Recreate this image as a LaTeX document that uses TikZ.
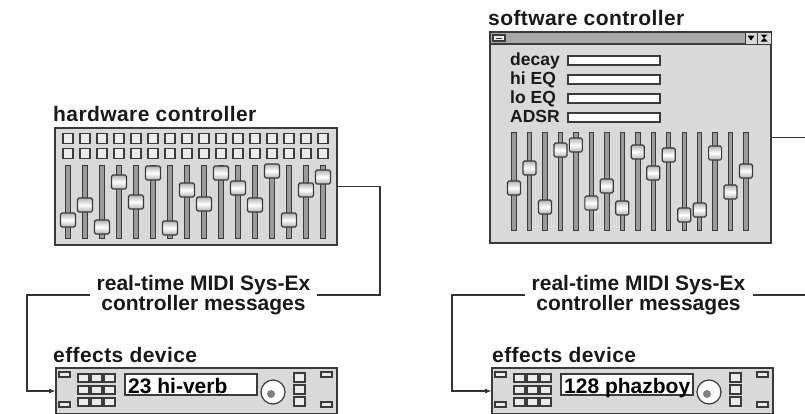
\documentclass[tikz,border=0pt]{standalone}
\usepackage{fontspec}
\setmainfont{Liberation Sans}
\usetikzlibrary{arrows.meta}

\definecolor{panel}{HTML}{D9D9D9}
\definecolor{rim}{HTML}{3A3A3A}
\definecolor{barfill}{HTML}{A8A8A8}
\definecolor{slotgray}{HTML}{9A9A9A}
\definecolor{wirecol}{HTML}{333333}

\tikzset{
  panelbox/.style={draw=rim, line width=1.6pt, fill=panel, inner sep=0pt, outer sep=0pt, anchor=north west},
  caption/.style={font=\fontsize{21}{24}\selectfont\bfseries\addfontfeature{LetterSpace=2}, text=black!90, anchor=base west, inner sep=0pt},
  msg/.style={font=\fontsize{21}{18}\selectfont\bfseries, text=black!90, align=center, inner xsep=7pt, inner ysep=0pt},
  wire/.style={draw=wirecol, line width=1.4pt},
  padkey/.style={draw=rim, line width=1.1pt, fill=white!92!black},
  fadertrack/.style={draw=rim, line width=0.9pt, fill=slotgray},
  knob/.style={draw=rim, line width=1.2pt, rounded corners=1.5pt, top color=gray!60, bottom color=gray!60, middle color=white},
  entryfield/.style={draw=rim, line width=1.2pt, fill=white},
  param/.style={font=\fontsize{17.5}{20}\selectfont\bfseries, text=black!90, anchor=base west, inner sep=0pt},
  readout/.style={font=\fontsize{21}{24}\selectfont\bfseries, anchor=base west, inner sep=0pt},
}

% front panel of an effects unit, drawn relative to its top-left corner
\newcommand\fxpanel[3]{%
  \begin{scope}[shift={(#1,368)}]
    \draw[padkey] (3,4) rectangle (14,9);
    \draw[padkey] (3,34) rectangle (14,39);
    \foreach \cx in {22,35,48}
      \foreach \cy in {6,18,30}
        \draw[padkey] (\cx,\cy) rectangle (\cx+11,\cy+8);
    \draw[entryfield] (69,6) rectangle (201,27);
    \node[readout] (#3) at (72,25) {#2};
    \draw[draw=rim, line width=1.2pt, fill=white] (217,24) circle (12pt);
    \fill[gray] (215,26) circle (4pt);
    \foreach \cy in {5,17,29}
      \draw[padkey] (238,\cy) rectangle (249,\cy+9);
    \draw[padkey] (265,4) rectangle (276,9);
    \draw[padkey] (265,34) rectangle (276,39);
  \end{scope}}

\begin{document}
\begin{tikzpicture}[x=1pt,y=-1pt]
\useasboundingbox (0,0) rectangle (805,413);
\clip (0,0) rectangle (805,413);

% ---------- hardware controller ----------
\node[caption] (hwtitle) at (53,121) {hardware controller};
\node[panelbox, minimum width=282pt, minimum height=117pt] (hw) at (55,128) {};
\foreach \i in {0,...,15} {
  \pgfmathsetmacro\x{68+17*\i}
  \draw[padkey] (\x-5,133.5) rectangle (\x+5,143.5);
  \draw[padkey] (\x-5,148.5) rectangle (\x+5,158.5);
}
\foreach \k [count=\i from 0] in {220,205,227,182,202,173,228,190,204,173,188,205,171,220,190,177} {
  \pgfmathsetmacro\x{68+17*\i}
  \draw[fadertrack] (\x-2.4,165) rectangle (\x+2.4,238);
  \draw[knob] (\x-7.5,\k-7) rectangle (\x+7.5,\k+7);
}

% ---------- software controller ----------
\node[caption] (swtitle) at (488,25) {software controller};
\node[panelbox, minimum width=281pt, minimum height=211pt] (sw) at (490,32) {};
\draw[draw=rim, line width=1.2pt, fill=barfill] (490,32) rectangle (771,44);
\draw[padkey] (493,35) rectangle (505,41);
\draw[rim, line width=1pt] (496,38) -- (502,38);
\draw[draw=rim, line width=1pt, fill=panel] (745,32) rectangle (757,44);
\draw[draw=rim, line width=1pt, fill=panel] (757,32) rectangle (771,44);
\fill[black] (747.5,35.5) -- (754.5,35.5) -- (751,40.5) -- cycle;
\fill[black] (760.5,34.5) -- (767.5,34.5) -- (764,38) -- cycle;
\fill[black] (760.5,41.5) -- (767.5,41.5) -- (764,38) -- cycle;
\foreach \t/\nm [count=\j from 0] in {decay/pdecay, hi EQ/phi, lo EQ/plo, ADSR/padsr} {
  \pgfmathsetmacro\c{60.5+19*\j}
  \node[param] (\nm) at (510,\c+5) {\t};
  \draw[entryfield] (568,\c-4.5) rectangle (660,\c+4.5);
}
\foreach \k [count=\i from 0] in {188,168,207,150,145,203,186,208,152,173,155,215,210,153,192,171} {
  \pgfmathsetmacro\x{514+15.47*\i}
  \draw[fadertrack] (\x-2.2,132) rectangle (\x+2.2,230);
  \draw[knob] (\x-6.5,\k-7) rectangle (\x+6.5,\k+7);
}

% ---------- effects devices ----------
\node[caption] (fx1title) at (53,362) {effects device};
\node[panelbox, minimum width=281pt, minimum height=46pt] (fx1) at (56,368) {};
\fxpanel{56}{23 hi-verb}{fx1text}

\node[caption] (fx2title) at (492,362) {effects device};
\node[panelbox, minimum width=281pt, minimum height=46pt] (fx2) at (492,368) {};
\fxpanel{492}{128 phazboy}{fx2text}

% ---------- message labels ----------
\node[msg] (msg1) at (203.5,295) {real-time MIDI Sys-Ex\\controller messages};
\node[msg] (msg2) at (638.5,295) {real-time MIDI Sys-Ex\\controller messages};

% ---------- connectors ----------
\coordinate (hwbend) at (380,295);
\coordinate (fx1bend) at (27,340);
\coordinate (swbend) at (815,200);
\coordinate (fx2bend) at (452,340);

\draw[wire] (hw.east) -| (hwbend) -- (msg1.east);
\draw[wire, -{Latex[length=7pt,width=5pt]}] (msg1.west) -| (fx1bend) |- (fx1.west);
\draw[wire] (sw.east) -| (swbend) |- (msg2.east);
\draw[wire, -{Latex[length=7pt,width=5pt]}] (msg2.west) -| (fx2bend) |- (fx2.west);
\end{tikzpicture}
\end{document}
